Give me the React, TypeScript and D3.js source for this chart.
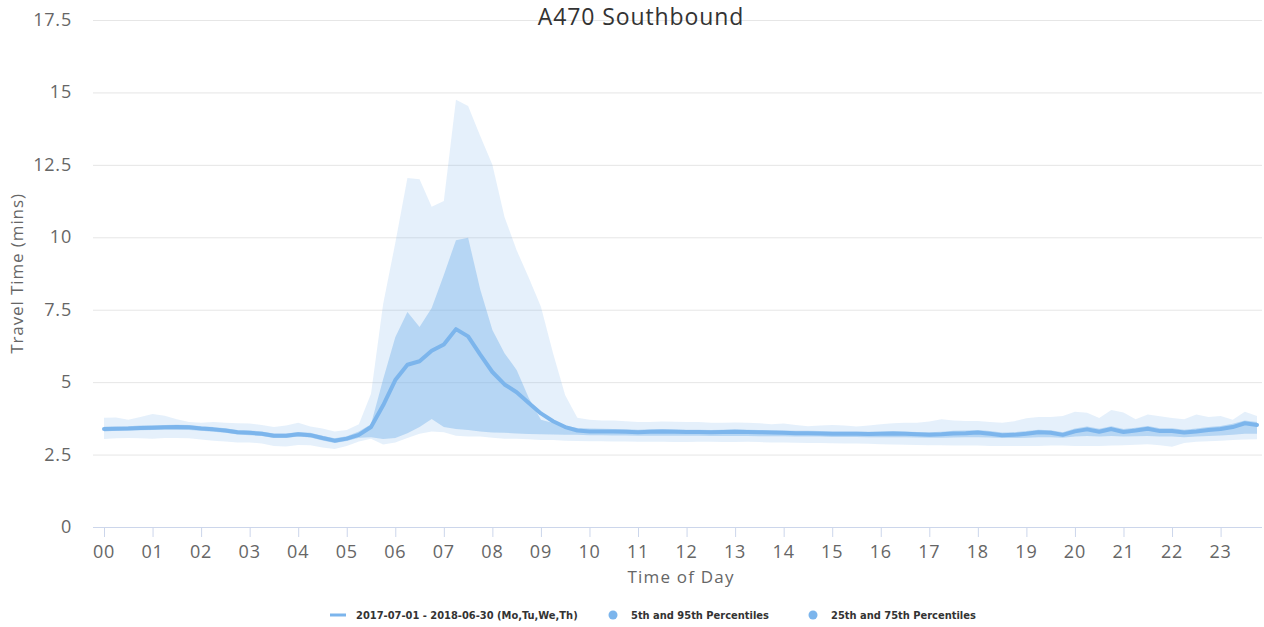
import React, { useEffect, useRef } from 'react';
import * as d3 from 'd3';

// 15 minute slots, 00:00 .. 23:45
const hourLabels = d3.range(24).map(h => String(h).padStart(2, '0'));

const median = [
  3.38, 3.39, 3.40, 3.42, 3.43, 3.44, 3.45, 3.44, 3.40, 3.37, 3.33, 3.27,
  3.25, 3.22, 3.15, 3.15, 3.20, 3.17, 3.07, 2.98, 3.05, 3.18, 3.45, 4.20,
  5.07, 5.60, 5.72, 6.08, 6.30, 6.83, 6.58, 5.95, 5.35, 4.92, 4.65, 4.28,
  3.92, 3.65, 3.45, 3.33, 3.30, 3.30, 3.30, 3.29, 3.27, 3.29, 3.30, 3.29,
  3.28, 3.28, 3.27, 3.28, 3.29, 3.28, 3.27, 3.26, 3.25, 3.24, 3.24, 3.23,
  3.22, 3.22, 3.22, 3.21, 3.22, 3.23, 3.22, 3.20, 3.18, 3.20, 3.23, 3.24,
  3.26, 3.22, 3.17, 3.18, 3.22, 3.27, 3.25, 3.18, 3.30, 3.37, 3.29, 3.38,
  3.28, 3.33, 3.39, 3.31, 3.31, 3.26, 3.30, 3.35, 3.38, 3.45, 3.58, 3.52,
];

const p95 = [
  3.77, 3.78, 3.70, 3.80, 3.90, 3.84, 3.72, 3.62, 3.60, 3.62, 3.60, 3.58,
  3.57, 3.52, 3.45, 3.50, 3.60, 3.47, 3.40, 3.30, 3.35, 3.55, 4.60, 7.70,
  9.80, 12.05, 12.00, 11.05, 11.25, 14.75, 14.53, 13.50, 12.50, 10.70, 9.55, 8.60,
  7.60, 6.00, 4.55, 3.77, 3.70, 3.68, 3.68, 3.65, 3.62, 3.62, 3.64, 3.63,
  3.62, 3.62, 3.60, 3.60, 3.61, 3.60, 3.58, 3.55, 3.57, 3.52, 3.48, 3.50,
  3.52, 3.50, 3.47, 3.50, 3.55, 3.58, 3.60, 3.60, 3.64, 3.72, 3.68, 3.66,
  3.66, 3.62, 3.60, 3.65, 3.75, 3.80, 3.80, 3.83, 3.98, 3.94, 3.76, 4.04,
  3.95, 3.72, 3.88, 3.82, 3.76, 3.72, 3.88, 3.80, 3.83, 3.70, 3.98, 3.83,
];

const p5 = [
  3.04, 3.06, 3.07, 3.06, 3.05, 3.07, 3.07, 3.06, 3.02, 2.98, 2.95, 2.92,
  2.92, 2.88, 2.80, 2.78, 2.83, 2.82, 2.74, 2.69, 2.80, 2.95, 3.05, 2.85,
  2.92, 3.07, 3.22, 3.30, 3.27, 3.15, 3.12, 3.12, 3.08, 3.05, 3.05, 3.03,
  3.00, 3.00, 2.98, 2.97, 2.96, 2.96, 2.95, 2.95, 2.94, 2.94, 2.94, 2.93,
  2.93, 2.94, 2.94, 2.93, 2.93, 2.94, 2.93, 2.92, 2.92, 2.91, 2.90, 2.90,
  2.89, 2.88, 2.88, 2.87, 2.86, 2.85, 2.84, 2.83, 2.82, 2.82, 2.81, 2.81,
  2.81, 2.80, 2.80, 2.80, 2.80, 2.80, 2.81, 2.81, 2.80, 2.80, 2.80, 2.81,
  2.82, 2.84, 2.86, 2.82, 2.77, 2.90, 2.94, 2.96, 2.98, 3.00, 3.02, 3.03,
];

const p25 = [
  3.30, 3.32, 3.33, 3.34, 3.35, 3.36, 3.36, 3.35, 3.32, 3.29, 3.25, 3.19,
  3.17, 3.14, 3.07, 3.07, 3.12, 3.09, 2.99, 2.90, 2.97, 3.08, 3.10, 3.04,
  3.07, 3.24, 3.45, 3.73, 3.45, 3.38, 3.35, 3.30, 3.26, 3.25, 3.23, 3.21,
  3.20, 3.19, 3.18, 3.18, 3.17, 3.17, 3.16, 3.16, 3.15, 3.15, 3.15, 3.15,
  3.15, 3.15, 3.14, 3.14, 3.14, 3.14, 3.13, 3.13, 3.13, 3.12, 3.12, 3.12,
  3.11, 3.11, 3.11, 3.10, 3.10, 3.10, 3.10, 3.09, 3.08, 3.08, 3.09, 3.10,
  3.10, 3.09, 3.07, 3.07, 3.08, 3.10, 3.10, 3.08, 3.12, 3.14, 3.12, 3.14,
  3.12, 3.13, 3.14, 3.12, 3.12, 3.10, 3.12, 3.14, 3.16, 3.18, 3.22, 3.22,
];

const p75 = [
  3.46, 3.47, 3.48, 3.50, 3.51, 3.52, 3.53, 3.52, 3.48, 3.45, 3.41, 3.35,
  3.33, 3.30, 3.23, 3.23, 3.28, 3.25, 3.15, 3.06, 3.13, 3.30, 3.55, 5.10,
  6.55, 7.42, 6.90, 7.56, 8.70, 9.90, 9.98, 8.20, 6.80, 6.00, 5.42, 4.45,
  3.70, 3.59, 3.50, 3.42, 3.40, 3.39, 3.38, 3.37, 3.36, 3.37, 3.38, 3.37,
  3.36, 3.36, 3.35, 3.36, 3.37, 3.36, 3.35, 3.34, 3.33, 3.32, 3.32, 3.31,
  3.30, 3.30, 3.30, 3.29, 3.30, 3.31, 3.30, 3.28, 3.27, 3.29, 3.32, 3.33,
  3.35, 3.31, 3.26, 3.27, 3.31, 3.36, 3.34, 3.27, 3.40, 3.47, 3.39, 3.48,
  3.38, 3.43, 3.49, 3.41, 3.41, 3.36, 3.40, 3.45, 3.49, 3.56, 3.68, 3.62,
];

const yTicks = [0, 2.5, 5, 7.5, 10, 12.5, 15, 17.5];

const legendItems = [
  { label: '2017-07-01 - 2018-06-30 (Mo,Tu,We,Th)', type: 'line', x: 330 },
  { label: '5th and 95th Percentiles', type: 'dot', x: 613 },
  { label: '25th and 75th Percentiles', type: 'dot', x: 813 },
];

const App = () => {
  const svgRef = useRef<SVGSVGElement>(null);

  useEffect(() => {
    const width = 1264;
    const height = 627;
    const plot = { left: 93, right: 1262, top: 20, bottom: 527 };
    const blue = '#7cb5ec';
    const font = '"Open Sans", "DejaVu Sans", sans-serif';

    const svg = d3.select(svgRef.current)
      .attr('width', width)
      .attr('height', height);
    svg.selectAll('*').remove();

    const x = d3.scaleLinear().domain([0, 95]).range([104, 1257]);
    const y = d3.scaleLinear().domain([0, 17.5]).range([plot.bottom, plot.top]);

    // grid lines
    svg.append('g')
      .selectAll('line')
      .data(yTicks.filter(t => t > 0))
      .enter().append('line')
      .attr('x1', plot.left)
      .attr('x2', plot.right)
      .attr('y1', d => y(d) + 0.5)
      .attr('y2', d => y(d) + 0.5)
      .attr('stroke', '#e6e6e6');

    // y labels
    svg.append('g')
      .selectAll('text')
      .data(yTicks)
      .enter().append('text')
      .attr('x', 72)
      .attr('y', d => y(d) + 6)
      .attr('text-anchor', 'end')
      .style('font-family', font)
      .style('font-size', '18px')
      .style('letter-spacing', '0.8px')
      .attr('fill', '#666666')
      .text(d => String(d));

    const idx = d3.range(median.length);

    const band = (lo: number[], hi: number[]) => d3.area<number>()
      .x(i => x(i))
      .y0(i => y(lo[i]))
      .y1(i => y(hi[i]));

    svg.append('path')
      .datum(idx)
      .attr('d', band(p5, p95))
      .attr('fill', blue)
      .attr('fill-opacity', 0.2);

    svg.append('path')
      .datum(idx)
      .attr('d', band(p25, p75))
      .attr('fill', blue)
      .attr('fill-opacity', 0.45);

    svg.append('path')
      .datum(idx)
      .attr('d', d3.line<number>().x(i => x(i)).y(i => y(median[i])))
      .attr('fill', 'none')
      .attr('stroke', blue)
      .attr('stroke-width', 4)
      .attr('stroke-linejoin', 'round')
      .attr('stroke-linecap', 'round');

    // x axis
    svg.append('line')
      .attr('x1', plot.left)
      .attr('x2', plot.right)
      .attr('y1', plot.bottom + 0.5)
      .attr('y2', plot.bottom + 0.5)
      .attr('stroke', '#ccd6eb');

    const xt = svg.append('g')
      .selectAll('g')
      .data(hourLabels)
      .enter().append('g')
      .attr('transform', (d, h) => `translate(${x(h * 4)},0)`);

    xt.append('line')
      .attr('x1', 0.5).attr('x2', 0.5)
      .attr('y1', plot.bottom)
      .attr('y2', plot.bottom + 10)
      .attr('stroke', '#ccd6eb');

    xt.append('text')
      .attr('y', 558)
      .attr('text-anchor', 'middle')
      .style('font-family', font)
      .style('font-size', '18px')
      .style('letter-spacing', '0.8px')
      .attr('fill', '#666666')
      .text(d => d);

    // titles
    svg.append('text')
      .attr('x', 641)
      .attr('y', 25)
      .attr('text-anchor', 'middle')
      .style('font-family', font)
      .style('font-size', '23px')
      .style('letter-spacing', '0.9px')
      .attr('fill', '#333333')
      .text('A470 Southbound');

    svg.append('text')
      .attr('transform', `translate(23,${(plot.top + plot.bottom) / 2}) rotate(-90)`)
      .attr('text-anchor', 'middle')
      .style('font-family', font)
      .style('font-size', '17px')
      .style('letter-spacing', '0.9px')
      .attr('fill', '#666666')
      .text('Travel Time (mins)');

    svg.append('text')
      .attr('x', 681)
      .attr('y', 583)
      .attr('text-anchor', 'middle')
      .style('font-family', font)
      .style('font-size', '17px')
      .style('letter-spacing', '1.2px')
      .attr('fill', '#666666')
      .text('Time of Day');

    // legend
    const lg = svg.append('g')
      .selectAll('g')
      .data(legendItems)
      .enter().append('g')
      .attr('transform', d => `translate(${d.x},615)`);

    lg.filter(d => d.type === 'line').append('line')
      .attr('x1', 0).attr('x2', 16)
      .attr('stroke', blue)
      .attr('stroke-width', 3);

    lg.filter(d => d.type === 'dot').append('circle')
      .attr('r', 4.5)
      .attr('fill', blue);

    lg.append('text')
      .attr('x', d => (d.type === 'line' ? 26 : 18))
      .attr('y', 4)
      .style('font-family', '"Liberation Sans Narrow", "DejaVu Sans Condensed", sans-serif')
      .style('font-size', '11px')
      .style('font-weight', 'bold')
      .attr('fill', '#333333')
      .text(d => d.label);
  }, []);

  return <svg ref={svgRef} style={{ display: 'block', position: 'absolute', left: 0, top: 0 }}></svg>;
};

export default App;
